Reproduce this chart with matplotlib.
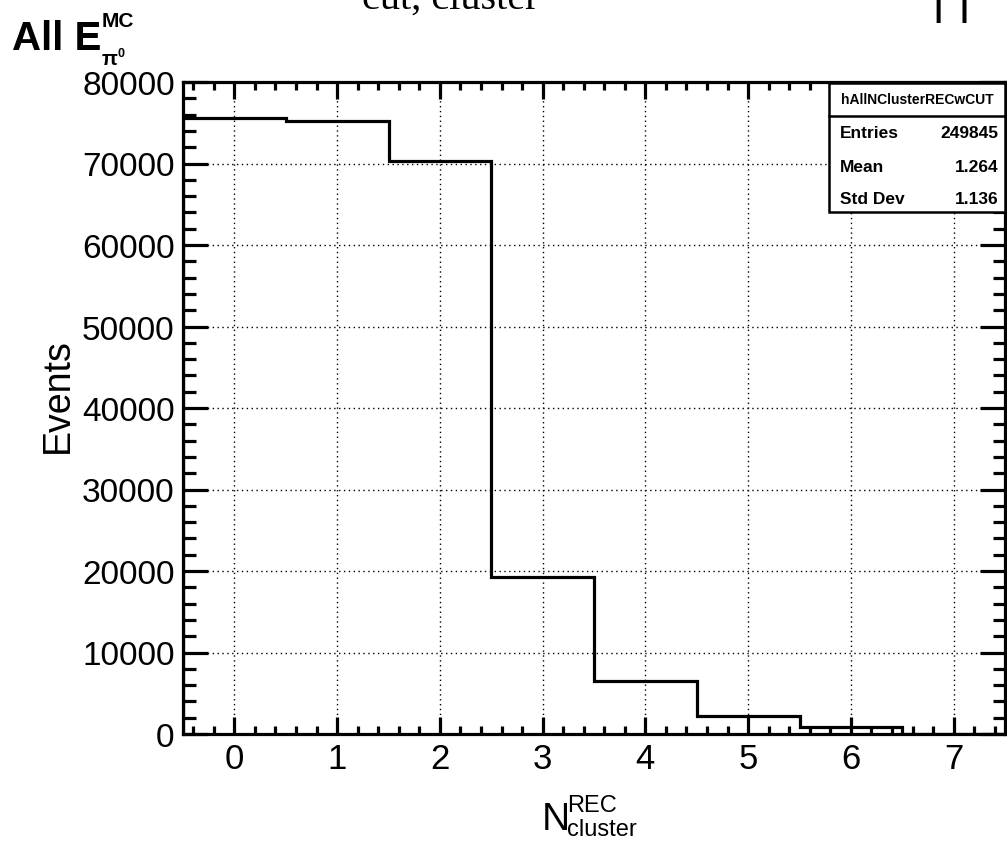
import matplotlib
matplotlib.use("Agg")
import matplotlib.pyplot as plt
from matplotlib.patches import Rectangle
from matplotlib.lines import Line2D
from matplotlib.ticker import MultipleLocator, FuncFormatter
import numpy as np

plt.rcParams['font.family'] = ['Liberation Sans', 'DejaVu Sans']

# ---- data ----
bin_centers = [0, 1, 2, 3, 4, 5, 6, 7]
counts = [75600, 75200, 70300, 19250, 6550, 2150, 800, 0]
x_ticks = [0, 1, 2, 3, 4, 5, 6, 7]
y_ticks = [0, 10000, 20000, 30000, 40000, 50000, 60000, 70000, 80000]
hist_name = "hAllNClusterRECwCUT"
stat_labels = ["Entries", "Mean", "Std Dev"]
stat_values = ["249845", "1.264", "1.136"]

W, H = 1007, 845
fig = plt.figure(figsize=(W / 100, H / 100), dpi=100)

def fx(x):
    return x / W

def fy(y):
    return 1 - y / H

ax_l, ax_r, ax_t, ax_b = 183, 1005, 83, 735
ax = fig.add_axes([fx(ax_l), fy(ax_b), (ax_r - ax_l) / W, (ax_b - ax_t) / H])

edges = np.concatenate([[bin_centers[0] - 0.5], np.array(bin_centers) + 0.5])
ax.stairs(counts, edges, color='black', lw=2.3, zorder=3)

ax.set_xlim(edges[0], edges[-1])
ax.set_ylim(0, 80000)
ax.set_xticks(x_ticks)
ax.set_yticks(y_ticks)
ax.xaxis.set_minor_locator(MultipleLocator(0.2))
ax.yaxis.set_minor_locator(MultipleLocator(2000))
ax.yaxis.set_major_formatter(FuncFormatter(lambda v, p: f"{int(v)}"))

ax.tick_params(axis='both', which='both', direction='in', top=True, right=True, width=2.3, colors='black')
ax.tick_params(axis='y', which='major', length=18, labelsize=24, pad=6)
ax.tick_params(axis='y', which='minor', length=9)
ax.tick_params(axis='x', which='major', length=12, labelsize=25, pad=6)
ax.tick_params(axis='x', which='minor', length=6)
for s in ax.spines.values():
    s.set_linewidth(2.3)

ax.grid(True, which='major', linestyle=(0, (1, 2.5)), color='black', lw=1.0, zorder=1)
ax.set_axisbelow(True)

# axis labels
fig.text(fx(58), fy(396), "Events", rotation=90, fontsize=27, ha='center', va='center')
fig.text(fx(542), fy(830), "N", fontsize=28, ha='left', va='baseline')
fig.text(fx(567), fy(812), "REC", fontsize=17, ha='left', va='baseline')
fig.text(fx(567), fy(836), "cluster", fontsize=17, ha='left', va='baseline')

# title
fig.text(fx(12), fy(50), "All E", fontsize=29, fontweight='bold', ha='left', va='baseline')
fig.text(fx(102), fy(27), "MC", fontsize=15, fontweight='bold', ha='left', va='baseline')
fig.text(fx(102), fy(65), "π", fontsize=15, fontweight='bold', ha='left', va='baseline')
fig.text(fx(118), fy(57), "0", fontsize=9, fontweight='bold', ha='left', va='baseline')

# clipped text at top
fig.text(fx(362), fy(9), "cut, cluster", fontsize=29, family=['Liberation Serif', 'DejaVu Serif'],
         ha='left', va='baseline')
fig.text(fx(932), fy(14), "| |", fontsize=26, fontweight='bold',
         family=['DejaVu Sans'], ha='left', va='baseline')

# stats box
bx0, bx1, by0, by1, hy = 829, 1005, 84, 213, 117
fig.add_artist(Rectangle((fx(bx0), fy(by1)), (bx1 - bx0) / W, (by1 - by0) / H,
                         transform=fig.transFigure, facecolor='white', edgecolor='black', lw=1.8, zorder=10))
fig.add_artist(Line2D([fx(bx0), fx(bx1)], [fy(hy), fy(hy)], transform=fig.transFigure,
                      color='black', lw=1.8, zorder=11))
fig.text(fx((bx0 + bx1) / 2), fy((by0 + hy) / 2), hist_name, fontsize=10, fontweight='bold',
         ha='center', va='center', zorder=12)
row_y = [133, 167, 200]
for lab, val, yy in zip(stat_labels, stat_values, row_y):
    fig.text(fx(840), fy(yy), lab, fontsize=12.5, fontweight='bold', ha='left', va='center', zorder=12)
    fig.text(fx(998), fy(yy), val, fontsize=12.5, fontweight='bold', ha='right', va='center', zorder=12)

fig.savefig("out.png", dpi=100)
